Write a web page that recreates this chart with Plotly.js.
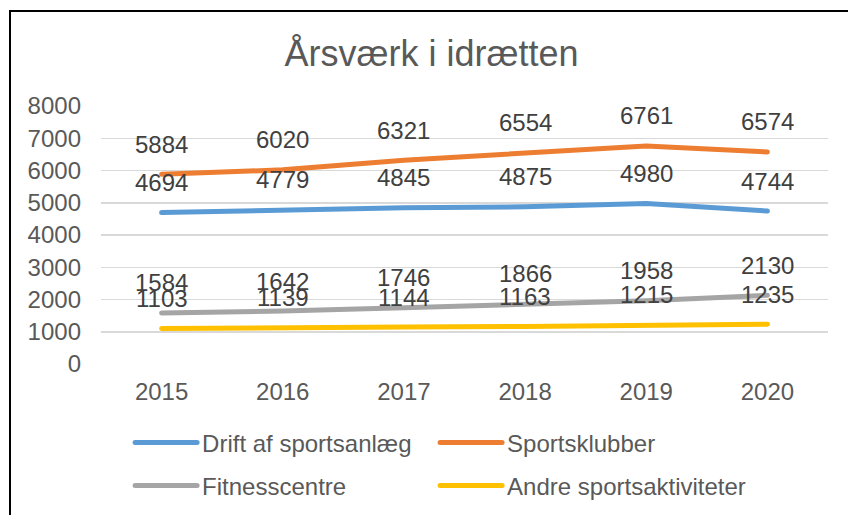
<!DOCTYPE html>
<html>
<head>
<meta charset="utf-8">
<script src="https://cdn.plot.ly/plotly-3.0.1.min.js"></script>
<style>
    body { margin: 0; background: #fff; }
    #chart { width: 848px; height: 515px; }
    #chart .js-line, #chart .legendlines path { stroke-linecap: round; stroke-linejoin: round; }
    #frame {
        position: absolute; left: 9px; top: 10px; right: 0; bottom: 0;
        border-top: 2px solid #000; border-left: 2px solid #000;
        pointer-events: none;
    }
</style>
</head>
<body>
<div id="chart"></div>
<div id="frame"></div>
<script type="text/javascript">
    var years = ['2015', '2016', '2017', '2018', '2019', '2020'];
    var drift = [4694, 4779, 4845, 4875, 4980, 4744];
    var klubber = [5884, 6020, 6321, 6554, 6761, 6574];
    var fitness = [1584, 1642, 1746, 1866, 1958, 2130];
    var andre = [1103, 1139, 1144, 1163, 1215, 1235];

    var names = ['Drift af sportsanlæg', 'Sportsklubber', 'Fitnesscentre', 'Andre sportsaktiviteter'];
    var colors = ['#5B9BD5', '#ED7D31', '#A5A5A5', '#FFC000'];
    var series = [drift, klubber, fitness, andre];
    var legends = ['legend', 'legend', 'legend2', 'legend2'];

    var data = [];
    var annotations = [];
    series.forEach(function (vals, i) {
        data.push({
            x: years,
            y: vals,
            type: 'scatter',
            mode: 'lines',
            name: names[i],
            legend: legends[i],
            legendwidth: i % 2 === 1 ? 320 : undefined,
            line: { color: colors[i], width: 5 },
            hoverinfo: 'skip',
        });
        // data labels sit above each point, like Excel's "above" labels
        vals.forEach(function (v, j) {
            annotations.push({
                x: j, y: v, xref: 'x', yref: 'y',
                text: String(v), showarrow: false, yshift: 30,
                font: { size: 24, color: '#404040' },
            });
        });
    });

    var legendBase = {
        orientation: 'h',
        xref: 'paper', yref: 'paper',
        x: 0.04, xanchor: 'left', yanchor: 'middle',
        itemwidth: 62,
        entrywidth: 228,
        font: { size: 24, color: '#595959' },
        bgcolor: 'rgba(0,0,0,0)',
    };

    var layout = {
        width: 848,
        height: 515,
        margin: { l: 101, r: 20, t: 106, b: 151, autoexpand: false },
        paper_bgcolor: '#fff',
        plot_bgcolor: '#fff',
        font: { family: 'Liberation Sans, Arial, sans-serif', color: '#595959' },
        title: {
            text: 'Årsværk i idrætten',
            font: { size: 36, color: '#595959' },
            x: 0.509, xanchor: 'center',
            y: 0.897, yanchor: 'middle',
        },
        showlegend: true,
        legend: Object.assign({}, legendBase, { y: -0.306 }),
        legend2: Object.assign({}, legendBase, { y: -0.472 }),
        xaxis: {
            type: 'category',
            range: [-0.5, 5.5],
            showgrid: false,
            showline: false,
            zeroline: false,
            ticks: '',
            ticklabelstandoff: 11,
            tickfont: { size: 24, color: '#595959' },
            fixedrange: true,
        },
        yaxis: {
            range: [0, 8000],
            dtick: 1000,
            showgrid: true,
            gridcolor: '#D9D9D9',
            gridwidth: 1.5,
            zeroline: false,
            showline: false,
            ticks: '',
            ticklabelstandoff: 19,
            tickfont: { size: 24, color: '#595959' },
            fixedrange: true,
        },
        annotations: annotations,
    };

    Plotly.newPlot(document.getElementById('chart'), data, layout, { displayModeBar: false, staticPlot: true });
</script>
</body>
</html>
